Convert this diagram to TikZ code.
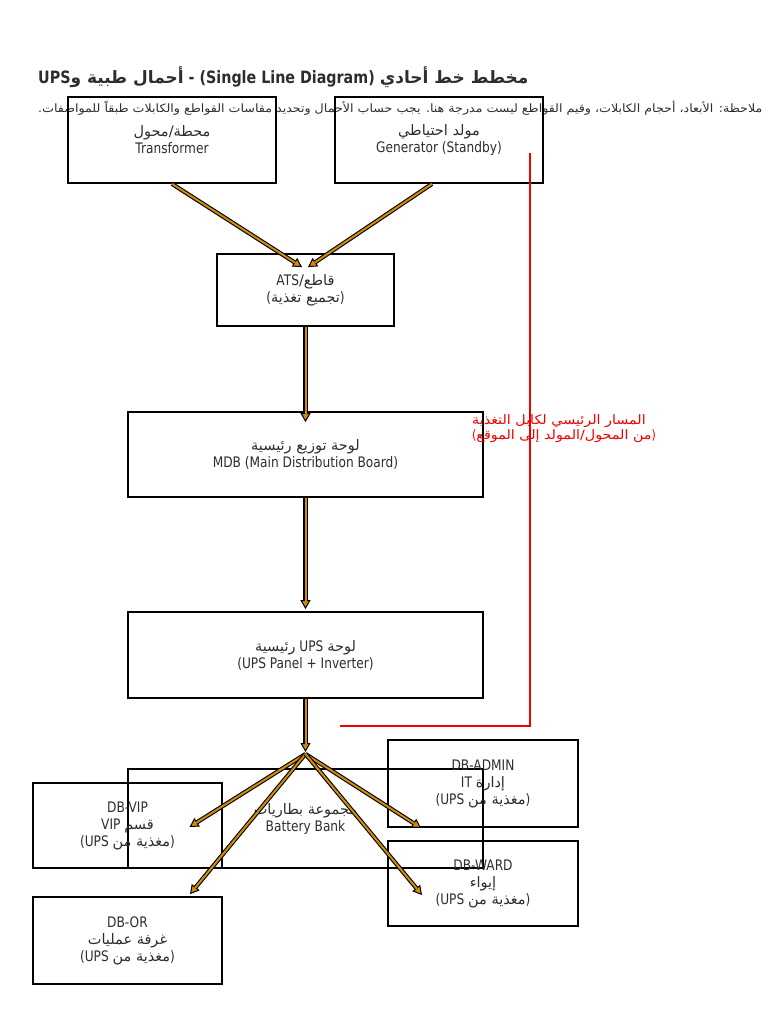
\documentclass[tikz,border=0pt]{standalone}
\usepackage{fontspec}
\setmainfont{DejaVu Sans}[FakeStretch=0.84]
\newfontfamily\ar{DejaVu Sans}[Script=Arabic,FakeStretch=1.0]
\newfontfamily\arwide{DejaVu Sans}[Script=Arabic,FakeStretch=1.1]
\TeXXeTstate=1
\usetikzlibrary{arrows.meta}
\definecolor{feedorange}{RGB}{210,140,10}
\definecolor{txtgray}{RGB}{45,45,45}
\definecolor{pathred}{RGB}{240,0,0}
\newcommand\AR[1]{{\ar\beginR #1\endR}}
\newcommand\ARW[1]{{\arwide\beginR #1\endR}}
\newcommand\feed[2]{%
  \draw[feedout] #1 -- #2;
  \draw[feedin] #1 -- #2;}
\begin{document}
\begin{tikzpicture}[x=1pt,y=-1pt,
  box/.style={draw=black, line width=1.8pt, align=center, inner sep=0pt,
    text=txtgray, font=\fontsize{14.5}{17}\selectfont},
  feedout/.style={draw=black, line width=4.2pt,
    -{Triangle[length=9pt,width=10pt,line width=1pt,fill=feedorange]}},
  feedin/.style={draw=feedorange, line width=2pt, shorten >=8pt},
  redpath/.style={draw=pathred, line width=2.8pt}]
\useasboundingbox (0,0) rectangle (768,1024);

% title and note
\node[anchor=west, inner sep=0pt, text=txtgray, font=\bfseries\fontsize{17}{20}\selectfont] (title) at (38,77)
  {\beginR{\ar مخطط خط أحادي} \beginL(Single Line Diagram)\endL{} - {\ar أحمال طبية و}UPS\endR};
\node[anchor=west, inner sep=0pt, text=txtgray, font=\fontsize{11.5}{13}\selectfont] (note) at (38,108)
  {\ARW{ملاحظة: الأبعاد، أحجام الكابلات، وقيم القواطع ليست مدرجة هنا. يجب حساب الأحمال وتحديد مقاسات القواطع والكابلات طبقاً للمواصفات.}};

% boxes
\node[box, minimum width=208pt, minimum height=86pt] (T) at (172,140)
  {\AR{محطة/محول}\\Transformer};
\node[box, minimum width=208pt, minimum height=86pt] (G) at (439,140)
  {\AR{مولد احتياطي}\\Generator (Standby)};
\node[box, minimum width=177pt, minimum height=72pt] (ATS) at (305.5,290)
  {\beginR{\ar قاطع/}ATS\endR\\(\AR{تجميع تغذية})};
\node[box, minimum width=355pt, minimum height=85pt] (MDB) at (305.5,454.5)
  {\AR{لوحة توزيع رئيسية}\\MDB (Main Distribution Board)};
\node[box, minimum width=355pt, minimum height=86pt] (UPS) at (305.5,655)
  {\beginR{\ar لوحة} UPS {\ar رئيسية}\endR\\(UPS Panel + Inverter)};
\node[box, minimum width=355pt, minimum height=99pt] (BAT) at (305.5,818.5)
  {\AR{مجموعة بطاريات}\\Battery Bank};
\node[box, minimum width=189pt, minimum height=85pt] (VIP) at (127.5,825.5)
  {DB-VIP\\\beginR{\ar قسم} VIP\endR\\(\beginR{\ar مغذية من} UPS\endR)};
\node[box, minimum width=190pt, minimum height=87pt] (ADMIN) at (483,783.5)
  {DB-ADMIN\\\beginR{\ar إدارة} IT\endR\\(\beginR{\ar مغذية من} UPS\endR)};
\node[box, minimum width=190pt, minimum height=85pt] (WARD) at (483,883.5)
  {DB-WARD\\\AR{إيواء}\\(\beginR{\ar مغذية من} UPS\endR)};
\node[box, minimum width=189pt, minimum height=87pt] (OR) at (127.5,940.5)
  {DB-OR\\\AR{غرفة عمليات}\\(\beginR{\ar مغذية من} UPS\endR)};

% red cable route
\coordinate (R1) at ([xshift=91pt,yshift=-13pt]G.center);
\coordinate (R3) at (340,726);
\draw[redpath] (R1) |- (R3);
\node[anchor=west, inner sep=0pt, align=left, text=pathred, font=\fontsize{13}{15}\selectfont] (redlbl) at (472,428.5)
  {\ARW{المسار الرئيسي لكابل التغذية}\\(\ARW{من المحول/المولد إلى الموقع})};

% feeders
\coordinate (J) at (305.5,754);
\feed{(T.south)}{([xshift=-3.5pt,yshift=-14pt]ATS.north)}
\feed{([xshift=-7pt]G.south)}{([xshift=2.5pt,yshift=-14pt]ATS.north)}
\feed{(ATS.south)}{([yshift=-11pt]MDB.north)}
\feed{(MDB.south)}{([yshift=2pt]UPS.north)}
\feed{(UPS.south)}{([yshift=2pt]J)}
\feed{(J)}{([xshift=62pt,yshift=-1.5pt]VIP.center)}
\feed{(J)}{([xshift=62.5pt,yshift=2pt]OR.north)}
\feed{(J)}{([xshift=-62pt]ADMIN.south)}
\feed{(J)}{([xshift=-61pt,yshift=-11.5pt]WARD.center)}
\end{tikzpicture}
\end{document}
